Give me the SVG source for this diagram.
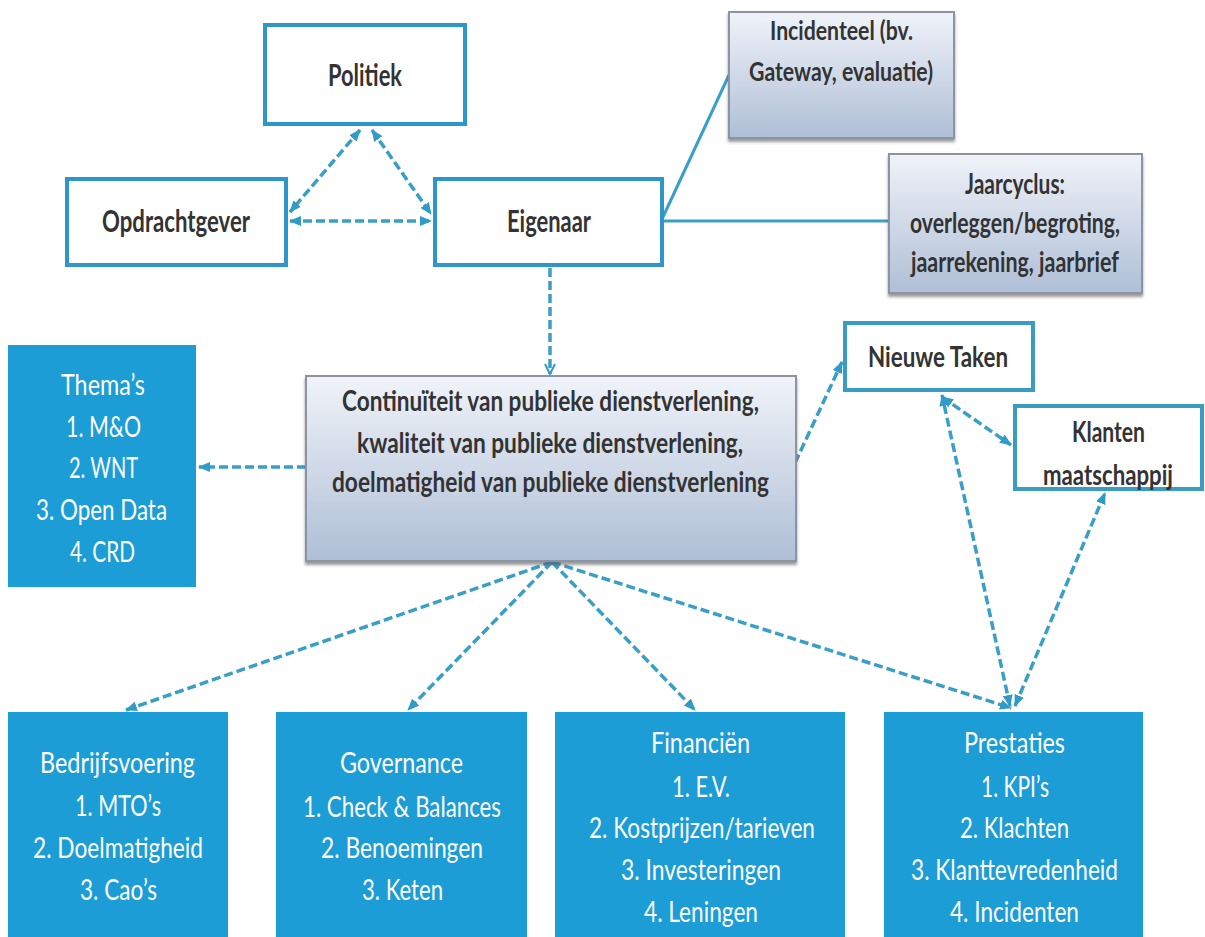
<svg xmlns="http://www.w3.org/2000/svg" width="1205" height="937" viewBox="0 0 1205 937">
<defs>
<linearGradient id="g" x1="0" y1="0" x2="0" y2="1">
<stop offset="0" stop-color="#f0f3f9"/>
<stop offset="1" stop-color="#afbfd6"/>
</linearGradient>
<filter id="sh" x="-5%" y="-5%" width="110%" height="115%">
<feDropShadow dx="0" dy="3" stdDeviation="1.5" flood-color="#555" flood-opacity="0.6"/>
</filter>
<marker id="ah" viewBox="0 0 12 10" refX="11" refY="5" markerWidth="12" markerHeight="10" markerUnits="userSpaceOnUse" orient="auto-start-reverse">
<path d="M0,0 L12,5 L0,10 Z" fill="#2f9bc9"/>
</marker>
<marker id="av" viewBox="0 0 12 12" refX="11" refY="6" markerWidth="12" markerHeight="12" markerUnits="userSpaceOnUse" orient="auto">
<path d="M1,1 L11,6 L1,11" fill="none" stroke="#2f9bc9" stroke-width="2"/>
</marker>
</defs>
<style>
.wb{fill:#fff;stroke:#2d97cb;stroke-width:4}
.bb{fill:#1c9dd6}
.gb{fill:url(#g);stroke:#8a94a4;stroke-width:2;filter:url(#sh)}
.dt{font-family:Lato,'Liberation Sans',sans-serif;font-weight:bold;fill:#333;font-size:28px}
.lt{font-family:Lato,'Liberation Sans',sans-serif;fill:#fff;font-size:28px}
.big{font-size:31px}
.sm{font-size:26px}
.dc{fill:none;stroke:#3a9fc7;stroke-width:3.5;stroke-dasharray:9 4}
.sc{fill:none;stroke:#3a9fc7;stroke-width:3}
</style>
<rect width="1205" height="937" fill="#fff"/>

<g id="connectors">
<path class="sc" d="M663,217 L729,75"/>
<path class="sc" d="M663,221 L889,221"/>
<path class="dc" d="M360,130 L290,212" marker-start="url(#ah)" marker-end="url(#ah)"/>
<path class="dc" d="M372,130 L431,214" marker-start="url(#ah)" marker-end="url(#ah)"/>
<path class="dc" d="M290,221 L431,221" marker-start="url(#ah)" marker-end="url(#ah)"/>
<path class="dc" d="M550,268 L550,374" marker-end="url(#av)"/>
<path class="dc" d="M306,467 L199,467" marker-end="url(#ah)"/>
<path class="dc" d="M795,463 L842,362" marker-end="url(#ah)"/>
<path class="dc" d="M942,397 L1011,445" marker-start="url(#ah)" marker-end="url(#ah)"/>
<path class="dc" d="M552,562 L126,710" marker-end="url(#ah)"/>
<path class="dc" d="M552,562 L408,710" marker-end="url(#ah)"/>
<path class="dc" d="M552,562 L695,710" marker-end="url(#ah)"/>
<path class="dc" d="M552,562 L1011,708" marker-end="url(#ah)"/>
<path class="dc" d="M1010,706 L942,395" marker-start="url(#ah)" marker-end="url(#ah)"/>
<path class="dc" d="M1015,706 L1105,493" marker-start="url(#ah)" marker-end="url(#ah)"/>
</g>

<g id="politiek">
<rect class="wb" x="265" y="25" width="200" height="99"/>
<text class="dt big" x="328" y="86" textLength="74" lengthAdjust="spacingAndGlyphs">Politiek</text>
</g>
<g id="opdrachtgever">
<rect class="wb" x="67" y="179" width="219" height="86"/>
<text class="dt big" x="102" y="232" textLength="148" lengthAdjust="spacingAndGlyphs">Opdrachtgever</text>
</g>
<g id="eigenaar">
<rect class="wb" x="435" y="179" width="227" height="86"/>
<text class="dt big" x="507" y="232" textLength="84" lengthAdjust="spacingAndGlyphs">Eigenaar</text>
</g>
<g id="incidenteel">
<rect class="gb" x="729" y="12" width="225" height="126"/>
<text class="dt sm" x="770" y="40" textLength="143" lengthAdjust="spacingAndGlyphs">Incidenteel (bv.</text>
<text class="dt sm" x="749" y="81" textLength="184" lengthAdjust="spacingAndGlyphs">Gateway, evaluatie)</text>
</g>
<g id="jaarcyclus">
<rect class="gb" x="889" y="154" width="253" height="139"/>
<text class="dt" x="965" y="194" textLength="100" lengthAdjust="spacingAndGlyphs">Jaarcyclus:</text>
<text class="dt" x="910" y="233" textLength="210" lengthAdjust="spacingAndGlyphs">overleggen/begroting,</text>
<text class="dt" x="911" y="272" textLength="208" lengthAdjust="spacingAndGlyphs">jaarrekening, jaarbrief</text>
</g>
<g id="themas">
<rect class="bb" x="8" y="345" width="188" height="242"/>
<text class="lt" x="61" y="395" textLength="84" lengthAdjust="spacingAndGlyphs">Thema’s</text>
<text class="lt" x="66" y="437" textLength="75" lengthAdjust="spacingAndGlyphs">1. M&amp;O</text>
<text class="lt" x="69" y="478" textLength="69" lengthAdjust="spacingAndGlyphs">2. WNT</text>
<text class="lt" x="36" y="520" textLength="131" lengthAdjust="spacingAndGlyphs">3. Open Data</text>
<text class="lt" x="70" y="562" textLength="65" lengthAdjust="spacingAndGlyphs">4. CRD</text>
</g>
<g id="continuiteit">
<rect class="gb" x="306" y="376" width="490" height="185"/>
<text class="dt" x="342" y="411" textLength="417" lengthAdjust="spacingAndGlyphs">Continuïteit van publieke dienstverlening,</text>
<text class="dt" x="357" y="453" textLength="386" lengthAdjust="spacingAndGlyphs">kwaliteit van publieke dienstverlening,</text>
<text class="dt" x="332" y="492" textLength="437" lengthAdjust="spacingAndGlyphs">doelmatigheid van publieke dienstverlening</text>
</g>
<g id="nieuwe-taken">
<rect class="wb" x="845" y="323" width="188" height="67" style="stroke:#3a9cc2"/>
<text class="dt" x="868" y="367" textLength="140" lengthAdjust="spacingAndGlyphs">Nieuwe Taken</text>
</g>
<g id="klanten">
<rect class="wb" x="1015" y="406" width="187" height="83" style="stroke:#3a9cc2"/>
<text class="dt" x="1072" y="442" textLength="73" lengthAdjust="spacingAndGlyphs">Klanten</text>
<text class="dt" x="1043" y="485" textLength="130" lengthAdjust="spacingAndGlyphs">maatschappij</text>
</g>
<g id="bedrijfsvoering">
<rect class="bb" x="8" y="712" width="220" height="225"/>
<text class="lt" x="40" y="773" textLength="155" lengthAdjust="spacingAndGlyphs">Bedrijfsvoering</text>
<text class="lt" x="75" y="816" textLength="86" lengthAdjust="spacingAndGlyphs">1. MTO’s</text>
<text class="lt" x="33" y="858" textLength="170" lengthAdjust="spacingAndGlyphs">2. Doelmatigheid</text>
<text class="lt" x="80" y="900" textLength="77" lengthAdjust="spacingAndGlyphs">3. Cao’s</text>
</g>
<g id="governance">
<rect class="bb" x="276" y="712" width="251" height="225"/>
<text class="lt" x="340" y="773" textLength="123" lengthAdjust="spacingAndGlyphs">Governance</text>
<text class="lt" x="303" y="817" textLength="198" lengthAdjust="spacingAndGlyphs">1. Check &amp; Balances</text>
<text class="lt" x="321" y="858" textLength="162" lengthAdjust="spacingAndGlyphs">2. Benoemingen</text>
<text class="lt" x="362" y="900" textLength="81" lengthAdjust="spacingAndGlyphs">3. Keten</text>
</g>
<g id="financien">
<rect class="bb" x="555" y="712" width="290" height="225"/>
<text class="lt" x="651" y="753" textLength="99" lengthAdjust="spacingAndGlyphs">Financiën</text>
<text class="lt" x="672" y="797" textLength="58" lengthAdjust="spacingAndGlyphs">1. E.V.</text>
<text class="lt" x="589" y="838" textLength="226" lengthAdjust="spacingAndGlyphs">2. Kostprijzen/tarieven</text>
<text class="lt" x="621" y="880" textLength="160" lengthAdjust="spacingAndGlyphs">3. Investeringen</text>
<text class="lt" x="644" y="922" textLength="114" lengthAdjust="spacingAndGlyphs">4. Leningen</text>
</g>
<g id="prestaties">
<rect class="bb" x="884" y="712" width="259" height="225"/>
<text class="lt" x="964" y="753" textLength="101" lengthAdjust="spacingAndGlyphs">Prestaties</text>
<text class="lt" x="981" y="797" textLength="68" lengthAdjust="spacingAndGlyphs">1. KPI’s</text>
<text class="lt" x="960" y="838" textLength="109" lengthAdjust="spacingAndGlyphs">2. Klachten</text>
<text class="lt" x="911" y="880" textLength="207" lengthAdjust="spacingAndGlyphs">3. Klanttevredenheid</text>
<text class="lt" x="950" y="922" textLength="129" lengthAdjust="spacingAndGlyphs">4. Incidenten</text>
</g>
</svg>
